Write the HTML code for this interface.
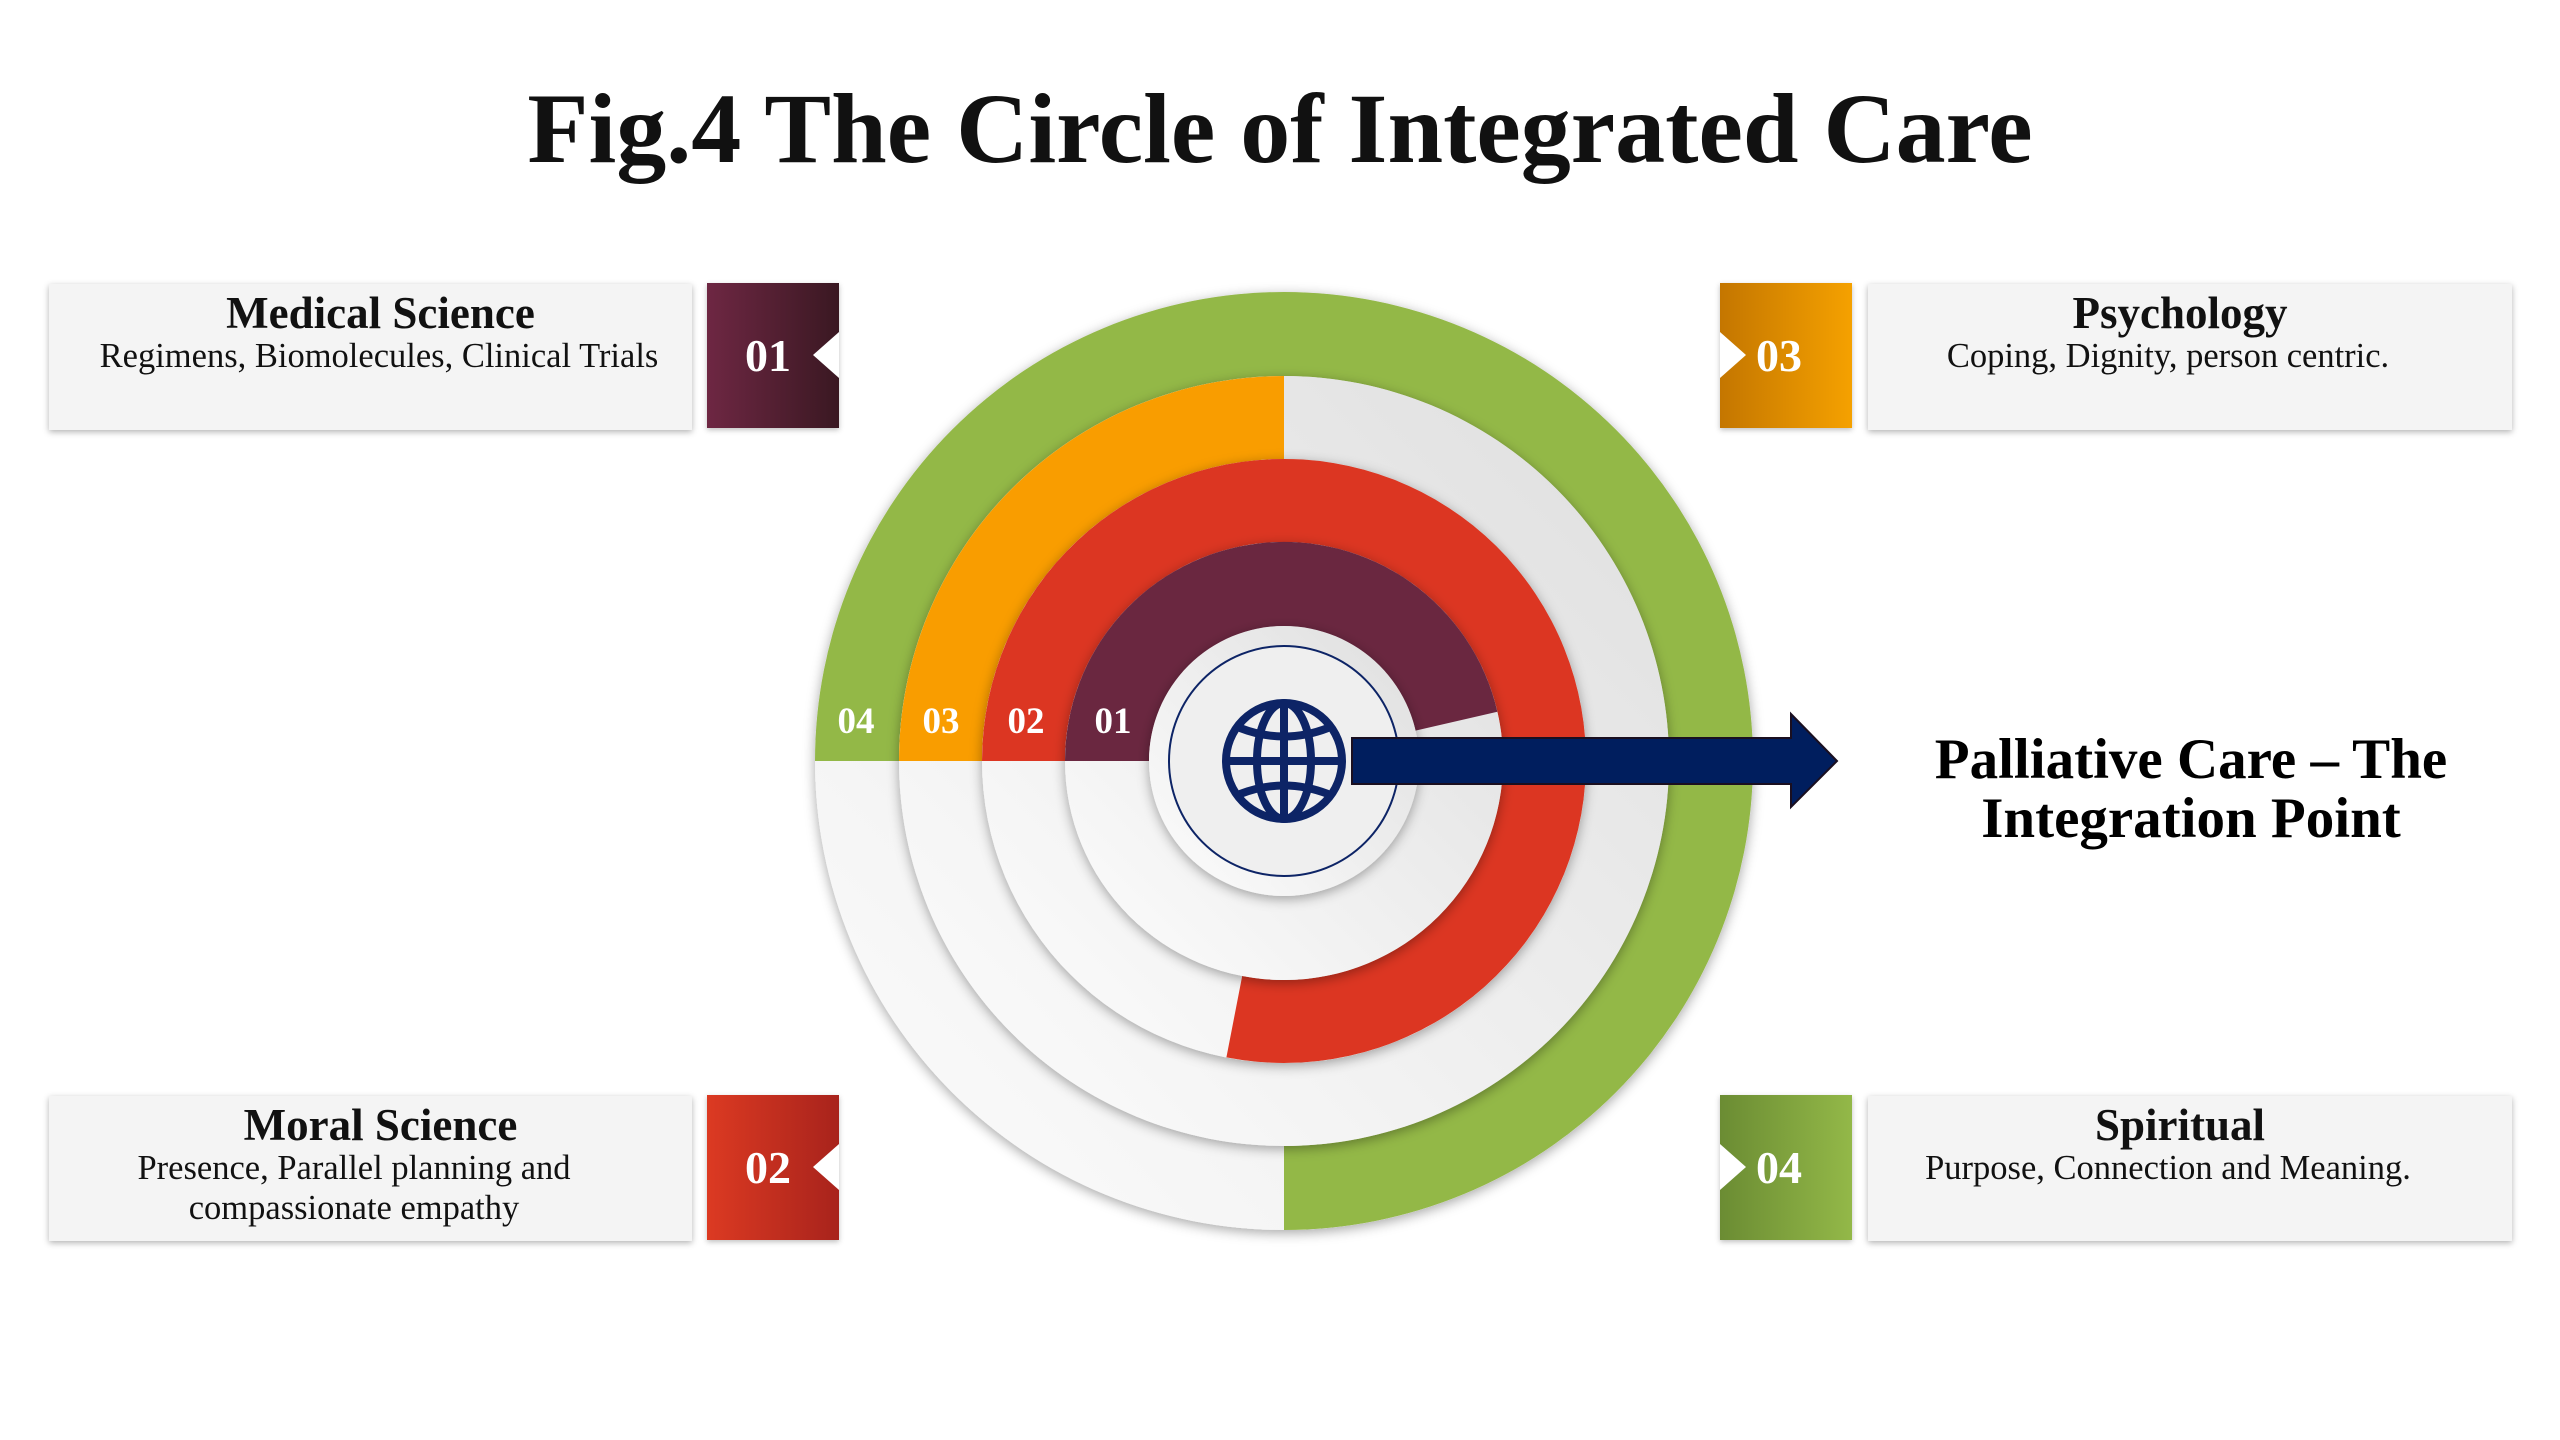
<!DOCTYPE html>
<html><head><meta charset="utf-8">
<style>
html,body{margin:0;padding:0;background:#fff;}
body{width:2560px;height:1440px;overflow:hidden;position:relative;font-family:"Liberation Serif",serif;}
.box{position:absolute;background:#f4f4f4;box-shadow:0 2px 6px rgba(0,0,0,0.3);}
.box .t{position:absolute;left:0;right:0;text-align:center;font-weight:bold;font-size:45px;color:#111;}
.box .s{position:absolute;text-align:center;font-size:34.5px;color:#111;line-height:40px;}
.tile{position:absolute;width:132px;height:145px;color:#fff;font-weight:bold;font-size:46px;box-shadow:0 2px 5px rgba(0,0,0,0.25);}
.tile span{position:absolute;top:46px;}
</style></head><body>
<div style="position:absolute;left:0;width:2560px;top:71px;text-align:center;font-weight:bold;font-size:100px;color:#111;">Fig.4 The Circle of Integrated Care</div>

<div class="box" style="left:49px;top:284px;width:643px;height:146px;">
 <div class="t" style="top:3px;padding-left:20px;">Medical Science</div>
 <div class="s" style="left:0;width:660px;top:52px;">Regimens, Biomolecules, Clinical Trials</div>
</div>
<div class="tile" style="left:707px;top:283px;background:linear-gradient(90deg,#6e2743,#3a1822);"><span style="left:38px;">01</span></div>

<div class="box" style="left:49px;top:1096px;width:643px;height:145px;">
 <div class="t" style="top:3px;padding-left:20px;">Moral Science</div>
 <div class="s" style="left:0;width:610px;top:52px;">Presence, Parallel planning and<br>compassionate empathy</div>
</div>
<div class="tile" style="left:707px;top:1095px;background:linear-gradient(90deg,#dc3a22,#a8231c);"><span style="left:38px;">02</span></div>

<div class="box" style="left:1868px;top:284px;width:644px;height:146px;">
 <div class="t" style="top:3px;padding-right:20px;">Psychology</div>
 <div class="s" style="left:0;width:600px;top:52px;">Coping, Dignity, person centric.</div>
</div>
<div class="tile" style="left:1720px;top:283px;background:linear-gradient(90deg,#c47600,#f5a100);"><span style="left:36px;">03</span></div>

<div class="box" style="left:1868px;top:1096px;width:644px;height:145px;">
 <div class="t" style="top:3px;padding-right:20px;">Spiritual</div>
 <div class="s" style="left:0;width:600px;top:52px;">Purpose, Connection and Meaning.</div>
</div>
<div class="tile" style="left:1720px;top:1095px;background:linear-gradient(90deg,#6b8c33,#93b848);"><span style="left:36px;">04</span></div>

<svg width="2560" height="1440" style="position:absolute;left:0;top:0;">
<defs>
 <linearGradient id="g" x1="1" y1="0" x2="0" y2="1">
  <stop offset="0" stop-color="#dedede"/><stop offset="1" stop-color="#fdfdfd"/>
 </linearGradient>
 <filter id="sh" x="-20%" y="-20%" width="140%" height="140%">
  <feDropShadow dx="0" dy="3" stdDeviation="6" flood-color="#000" flood-opacity="0.35"/>
 </filter>
</defs>
<polygon points="839,332 813,355 839,378" fill="#fff"/>
<polygon points="839,1144 813,1167 839,1190" fill="#fff"/>
<polygon points="1720,332 1746,355 1720,378" fill="#fff"/>
<polygon points="1720,1144 1746,1167 1720,1190" fill="#fff"/>

<circle cx="1284" cy="761" r="469" fill="url(#g)" filter="url(#sh)"/>
<path d="M815,761 A469,469 0 1 1 1284,1230 L1284,1146 A385,385 0 1 0 899,761 Z" fill="#93b847"/>
<circle cx="1284" cy="761" r="385" fill="url(#g)" filter="url(#sh)"/>
<path d="M899,761 A385,385 0 0 1 1284,376 L1284,459 A302,302 0 0 0 982,761 Z" fill="#f99d00"/>
<circle cx="1284" cy="761" r="302" fill="url(#g)" filter="url(#sh)"/>
<path d="M982,761 A302,302 0 1 1 1226.4,1057.4 L1242.2,976 A219,219 0 1 0 1065,761 Z" fill="#dc3622"/>
<circle cx="1284" cy="761" r="219" fill="url(#g)" filter="url(#sh)"/>
<path d="M1065,761 A219,219 0 0 1 1497.4,711.7 L1415.5,730.6 A135,135 0 0 0 1149,761 Z" fill="#6a2740"/>
<circle cx="1284" cy="761" r="135" fill="url(#g)" filter="url(#sh)"/>
<circle cx="1284" cy="761" r="115" fill="#efefef" stroke="#0d2466" stroke-width="2"/>

<g font-family="Liberation Serif,serif" font-weight="bold" font-size="37" fill="#fff" text-anchor="middle">
 <text x="856" y="733">04</text><text x="941" y="733">03</text><text x="1026" y="733">02</text><text x="1113" y="733">01</text>
</g>

<g fill="none" stroke="#0d2466" stroke-width="8">
 <circle cx="1284" cy="761" r="58"/>
 <ellipse cx="1284" cy="761" rx="27" ry="58"/>
 <line x1="1284" y1="703" x2="1284" y2="819"/>
 <line x1="1226" y1="761" x2="1342" y2="761"/>
 <path d="M1240,728 Q1284,745 1328,728"/>
 <path d="M1240,794 Q1284,777 1328,794"/>
</g>

<path d="M1352,738 L1791,738 L1791,714 L1837,761 L1791,807 L1791,784 L1352,784 Z" fill="#001e5e" stroke="#1a0f20" stroke-width="2"/>

<g font-family="Liberation Serif,serif" font-weight="bold" font-size="57" fill="#000" text-anchor="middle">
 <text x="2191" y="778">Palliative Care – The</text>
 <text x="2191" y="837">Integration Point</text>
</g>
</svg>
</body></html>
